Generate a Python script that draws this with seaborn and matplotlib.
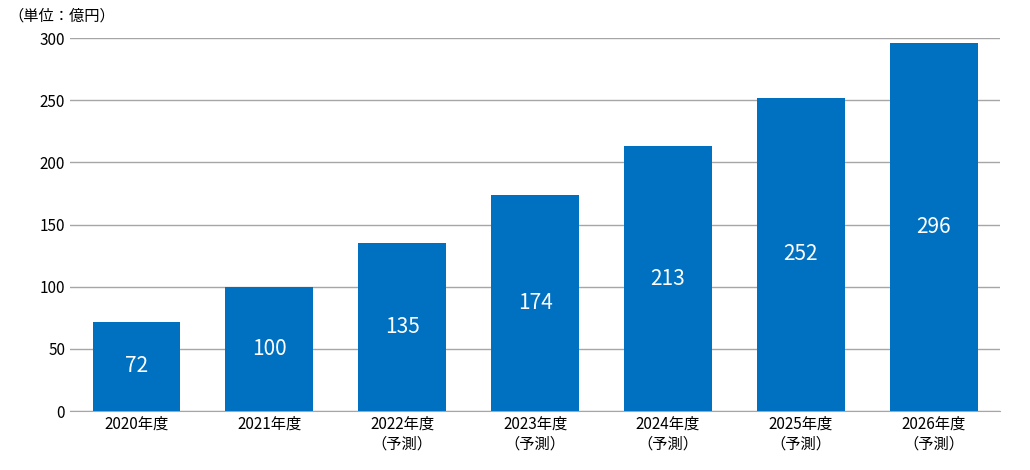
import matplotlib
matplotlib.use("Agg")
import matplotlib.pyplot as plt
import seaborn as sns
import pandas as pd

plt.rcParams["font.family"] = "Noto Sans CJK JP"

categories = ["2020年度", "2021年度", "2022年度\n（予測）", "2023年度\n（予測）",
              "2024年度\n（予測）", "2025年度\n（予測）", "2026年度\n（予測）"]
values = [72, 100, 135, 174, 213, 252, 296]
yticks = [0, 50, 100, 150, 200, 250, 300]

BAR_COLOR = "#0070C0"

df = pd.DataFrame({"year": categories, "value": values})

fig = plt.figure(figsize=(10.3, 4.7), dpi=100)
ax = fig.add_axes([0.068, 0.1255, 0.903, 0.7935])

sns.barplot(data=df, x="year", y="value", color=BAR_COLOR, width=0.66,
            saturation=1, ax=ax, zorder=3)

for i, v in enumerate(values):
    ax.text(i, v / 2, str(v), ha="center", va="center",
            color="white", fontsize=15, zorder=4)

ax.set_ylim(0, 300)
ax.set_xlim(-0.5, 6.5)
ax.set_yticks(yticks)
ax.grid(axis="y", color="#a6a6a6", lw=1, zorder=0)
for s in ["top", "right", "left"]:
    ax.spines[s].set_visible(False)
ax.spines["bottom"].set_color("#a6a6a6")
ax.tick_params(length=0, labelsize=11)
ax.set_xlabel("")
ax.set_ylabel("")

fig.text(0.008, 0.965, "（単位：億円）", fontsize=11, va="center")

fig.savefig("out.png", dpi=100)
